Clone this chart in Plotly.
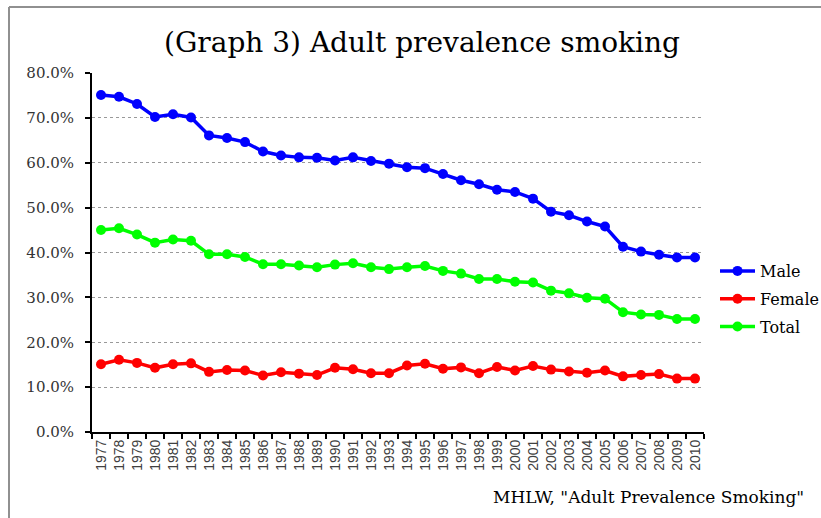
import plotly.graph_objects as go

years = [str(y) for y in range(1977, 2011)]
male = [75.1, 74.7, 73.1, 70.2, 70.8, 70.1, 66.1, 65.5, 64.6, 62.5, 61.6, 61.2, 61.1, 60.5, 61.2, 60.4,
        59.8, 59.0, 58.8, 57.5, 56.1, 55.2, 54.0, 53.5, 52.0, 49.1, 48.3, 46.9, 45.8, 41.3, 40.2, 39.5, 38.9, 38.9]
female = [15.1, 16.1, 15.4, 14.3, 15.1, 15.3, 13.4, 13.8, 13.7, 12.6, 13.3, 13.0, 12.7, 14.3, 14.0, 13.1,
          13.1, 14.8, 15.2, 14.1, 14.4, 13.1, 14.5, 13.7, 14.7, 13.9, 13.5, 13.2, 13.7, 12.4, 12.7, 12.9, 11.9, 11.9]
total = [45.0, 45.4, 44.0, 42.2, 42.9, 42.6, 39.6, 39.6, 39.0, 37.4, 37.4, 37.1, 36.7, 37.3, 37.6, 36.7,
         36.3, 36.7, 37.0, 35.9, 35.3, 34.1, 34.1, 33.5, 33.3, 31.5, 30.9, 29.9, 29.7, 26.7, 26.2, 26.1, 25.2, 25.2]
series = [("Male", male, "#0000FF"), ("Female", female, "#FF0000"), ("Total", total, "#00FF00")]

serif = "DejaVu Serif"

fig = go.Figure()
for name, vals, col in series:
    fig.add_trace(go.Scatter(
        x=years, y=[v / 100 for v in vals], name=name, mode="lines+markers", legendgroup=name,
        line=dict(color=col, width=3.5), marker=dict(color=col, size=10),
    ))

L, R, T, B = 92, 117, 73, 86
W, H = 821, 518
pw, ph = W - L - R, H - T - B

fig.update_layout(
    width=W, height=H, margin=dict(l=L, r=R, t=T, b=B, autoexpand=False),
    paper_bgcolor="white", plot_bgcolor="white",
    title=dict(text="(Graph 3) Adult prevalence smoking", x=422 / W, xanchor="center",
               y=1 - 42 / H, yanchor="middle",
               font=dict(family=serif, size=28, color="#000000")),
    showlegend=True,
    legend=dict(xref="container", yref="container", x=715 / W, y=1 - 299 / H,
                xanchor="left", yanchor="middle",
                font=dict(family=serif, size=16, color="#000000"),
                itemwidth=35, tracegroupgap=4, bgcolor="rgba(0,0,0,0)"),
    xaxis=dict(type="category", tickson="boundaries", showline=True, linecolor="black", linewidth=2,
               ticks="outside", ticklen=5, tickcolor="black", tickwidth=1.5,
               tickangle=-90, showgrid=False, automargin=False,
               tickfont=dict(family="Liberation Sans", size=14, color="#404040"),
               range=[-0.5, len(years) - 0.5]),
    yaxis=dict(range=[0, 0.8], dtick=0.1, tickformat=".1%", showline=True, linecolor="black",
               linewidth=2, ticks="outside", ticklen=5, tickcolor="black", tickwidth=1.5,
               showgrid=True, gridcolor="#999999", griddash="dot", gridwidth=1, zeroline=False,
               automargin=False, ticklabelstandoff=8,
               tickfont=dict(family=serif, size=15, color="#333333")),
    annotations=[dict(text='MHLW, "Adult Prevalence Smoking"', xref="paper", yref="paper",
                      x=(806 - L) / pw, y=(H - B - 497) / ph, xanchor="right", yanchor="middle",
                      showarrow=False, font=dict(family=serif, size=17, color="#000000"))],
    shapes=[
        dict(type="line", xref="paper", yref="paper", x0=(9 - L) / pw, x1=(830 - L) / pw,
             y0=(H - B - 7) / ph, y1=(H - B - 7) / ph, line=dict(color="#909090", width=2)),
        dict(type="line", xref="paper", yref="paper", x0=(9 - L) / pw, x1=(9 - L) / pw,
             y0=(H - B - 7) / ph, y1=(H - B - 530) / ph, line=dict(color="#909090", width=2)),
    ],
)

fig.write_html("out.html")
